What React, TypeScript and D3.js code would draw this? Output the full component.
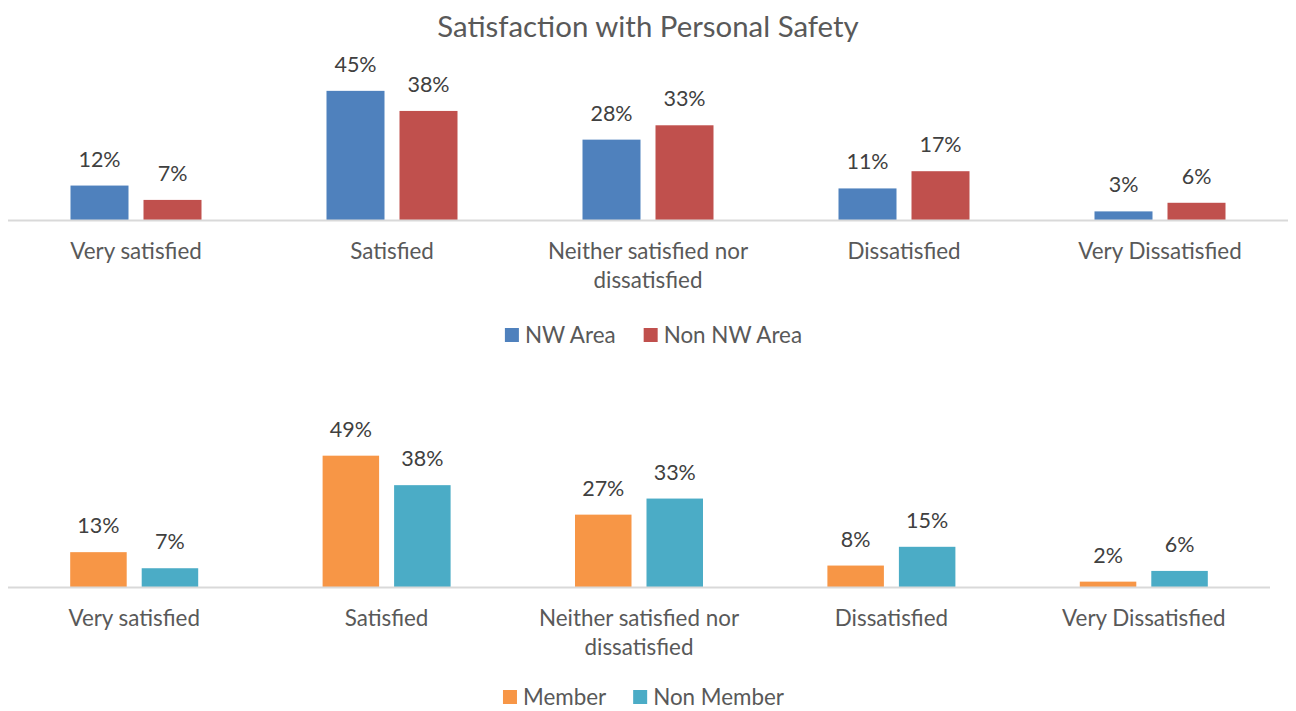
import React from "react";
import * as d3 from "d3";

const categories = ["Very satisfied", "Satisfied", "Neither satisfied nor dissatisfied", "Dissatisfied", "Very Dissatisfied"];
const categoryLines = [["Very satisfied"], ["Satisfied"], ["Neither satisfied nor", "dissatisfied"], ["Dissatisfied"], ["Very Dissatisfied"]];

const areaSeries = ["NW Area", "Non NW Area"];
const nwArea = [12, 45, 28, 11, 3];
const nonNwArea = [7, 38, 33, 17, 6];

const memberSeries = ["Member", "Non Member"];
const member = [13, 49, 27, 8, 2];
const nonMember = [7, 38, 33, 15, 6];

const title = "Satisfaction with Personal Safety";

const FONT = "Lato, 'Open Sans', sans-serif";
const LABEL_SIZE = 22.4;

function measure(text: string, size: number): number {
  try {
    const c = document.createElement("canvas");
    const ctx = c.getContext("2d");
    if (ctx) {
      ctx.font = `${size}px Lato`;
      return ctx.measureText(text).width;
    }
  } catch (e) {}
  return text.length * size * 0.5;
}

type PanelProps = {
  series: string[];
  values: number[][];
  colors: string[];
  x0: number;
  x1: number;
  baseY: number;
  pxPerPct: number;
  barW: number;
  gap: number;
  legendY: number;
  legendCx: number;
};

function Panel({ series, values, colors, x0, x1, baseY, pxPerPct, barW, gap, legendY, legendCx }: PanelProps) {
  const xCat = d3.scaleBand<string>().domain(categories).range([x0, x1]).padding(0);
  const step = xCat.bandwidth();
  const groupW = barW * 2 + gap;
  const inner = d3
    .scaleBand<string>()
    .domain(series)
    .range([(step - groupW) / 2, (step + groupW) / 2])
    .paddingInner(gap / (barW + gap))
    .paddingOuter(0);
  const y = d3.scaleLinear().domain([0, 100]).range([baseY, baseY - 100 * pxPerPct]);

  const legendWidths = series.map((s) => 20 + measure(s, LABEL_SIZE));
  const legendGap = 27;
  const totalLegend = legendWidths.reduce((a, b) => a + b, 0) + legendGap * (series.length - 1);
  let lx = legendCx - totalLegend / 2;
  const legendXs = legendWidths.map((w) => {
    const xx = lx;
    lx += w + legendGap;
    return xx;
  });

  return (
    <g>
      {categories.map((c, ci) => (
        <g key={c}>
          {series.map((s, si) => {
            const v = values[si][ci];
            const bx = (xCat(c) as number) + (inner(s) as number);
            return (
              <g key={s}>
                <rect x={bx} y={y(v)} width={inner.bandwidth()} height={baseY - y(v)} fill={colors[si]} />
                <text
                  x={bx + inner.bandwidth() / 2}
                  y={y(v) - 19}
                  textAnchor="middle"
                  fontSize={21.5}
                  fill="#404040"
                  fontFamily={FONT}
                >
                  {v}%
                </text>
              </g>
            );
          })}
          {categoryLines[ci].map((line, li) => (
            <text
              key={li}
              x={(xCat(c) as number) + step / 2}
              y={baseY + 39 + li * 29}
              textAnchor="middle"
              fontSize={LABEL_SIZE}
              fill="#595959"
              fontFamily={FONT}
            >
              {line}
            </text>
          ))}
        </g>
      ))}
      <line x1={x0} x2={x1} y1={baseY + 0.5} y2={baseY + 0.5} stroke="#D9D9D9" strokeWidth={2} />
      {series.map((s, i) => (
        <g key={s}>
          <rect x={legendXs[i]} y={legendY - 7} width={14} height={14} fill={colors[i]} />
          <text x={legendXs[i] + 20} y={legendY + 7.5} fontSize={LABEL_SIZE} fill="#595959" fontFamily={FONT}>
            {s}
          </text>
        </g>
      ))}
    </g>
  );
}

export default function App() {
  return (
    <svg
      width={1296}
      height={711}
      style={{ position: "absolute", left: 0, top: 0, background: "#fff" }}
    >
      <rect width={1296} height={711} fill="#fff" />
      <text x={648} y={37} textAnchor="middle" fontSize={29.4} fill="#595959" fontFamily={FONT}>
        {title}
      </text>
      <Panel
        series={areaSeries}
        values={[nwArea, nonNwArea]}
        colors={["#4F81BD", "#C0504D"]}
        x0={8}
        x1={1288}
        baseY={220}
        pxPerPct={2.87}
        barW={58}
        gap={15}
        legendY={335}
        legendCx={654}
      />
      <Panel
        series={memberSeries}
        values={[member, nonMember]}
        colors={["#F79646", "#4BACC6"]}
        x0={8}
        x1={1270}
        baseY={587}
        pxPerPct={2.68}
        barW={56.5}
        gap={15}
        legendY={697}
        legendCx={643.5}
      />
    </svg>
  );
}
